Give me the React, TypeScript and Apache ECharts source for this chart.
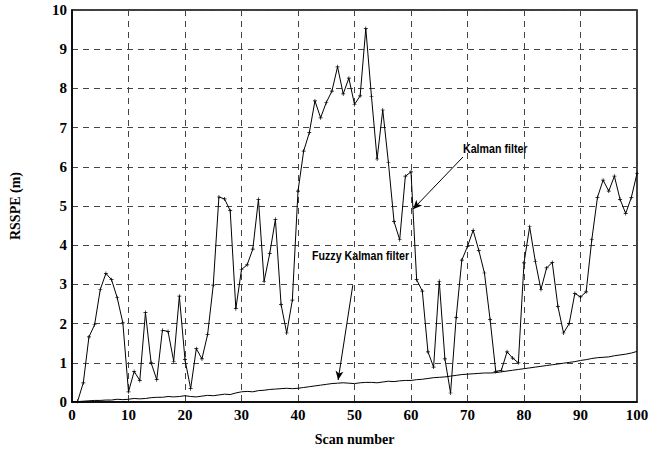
import React, { useEffect, useRef } from "react";
import * as echarts from "echarts";

const xTicks = [0, 10, 20, 30, 40, 50, 60, 70, 80, 90, 100];
const yTicks = [0, 1, 2, 3, 4, 5, 6, 7, 8, 9, 10];

const kalmanScan = [
  1, 2, 3, 4, 5, 6, 7, 8, 9, 10, 11, 12, 13, 14, 15, 16, 17, 18, 19, 20,
  21, 22, 23, 24, 25, 26, 27, 28, 29, 30, 31, 32, 33, 34, 35, 36, 37, 38, 39, 40,
  41, 42, 43, 44, 45, 46, 47, 48, 49, 50, 51, 52, 53, 54, 55, 56, 57, 58, 59, 60,
  61, 62, 63, 64, 65, 66, 67, 68, 69, 70, 71, 72, 73, 74, 75, 76, 77, 78, 79, 80,
  81, 82, 83, 84, 85, 86, 87, 88, 89, 90, 91, 92, 93, 94, 95, 96, 97, 98, 99, 100,
];
const kalmanValues = [
  0.02, 0.49, 1.66, 1.97, 2.87, 3.28, 3.12, 2.66, 2.02, 0.26,
  0.78, 0.55, 2.28, 1.0, 0.57, 1.83, 1.8, 1.04, 2.7, 1.08,
  0.34, 1.36, 1.1, 1.72, 2.98, 5.23, 5.18, 4.88, 2.38, 3.38,
  3.5, 3.9, 5.17, 3.08, 3.79, 4.66, 2.49, 1.76, 2.6, 5.38,
  6.4, 6.87, 7.68, 7.25, 7.64, 7.93, 8.55, 7.86, 8.26, 7.59,
  7.81, 9.53, 7.8, 6.2, 7.45, 6.11, 4.6, 4.14, 5.76, 5.87,
  3.12, 2.83, 1.28, 0.89, 3.08, 1.1, 0.23, 2.16, 3.62, 3.97,
  4.38, 3.87, 3.29, 2.1, 0.78, 0.81, 1.28, 1.12, 1.0, 3.55,
  4.47, 3.59, 2.87, 3.42, 3.56, 2.44, 1.76, 2.0, 2.77, 2.68,
  2.81, 4.14, 5.22, 5.66, 5.38, 5.76, 5.17, 4.81, 5.22, 5.83,
];

const fuzzyScan = [
  0, 1, 2, 3, 4, 5, 6, 7, 8, 9, 10, 11, 12, 13, 14, 15, 16, 17, 18, 19, 20,
  21, 22, 23, 24, 25, 26, 27, 28, 29, 30, 31, 32, 33, 34, 35, 36, 37, 38, 39, 40,
  41, 42, 43, 44, 45, 46, 47, 48, 49, 50, 51, 52, 53, 54, 55, 56, 57, 58, 59, 60,
  61, 62, 63, 64, 65, 66, 67, 68, 69, 70, 71, 72, 73, 74, 75, 76, 77, 78, 79, 80,
  81, 82, 83, 84, 85, 86, 87, 88, 89, 90, 91, 92, 93, 94, 95, 96, 97, 98, 99, 100,
];
const fuzzyValues = [
  0.0, 0.01, 0.02, 0.03, 0.04, 0.04, 0.05, 0.05, 0.07, 0.06,
  0.07, 0.09, 0.08, 0.09, 0.11, 0.12, 0.12, 0.14, 0.13, 0.14,
  0.16, 0.14, 0.13, 0.15, 0.17, 0.16, 0.18, 0.2, 0.19, 0.23,
  0.26, 0.27, 0.26, 0.29, 0.3, 0.32, 0.33, 0.34, 0.35, 0.34,
  0.35, 0.37, 0.39, 0.41, 0.43, 0.45, 0.47, 0.48, 0.49, 0.48,
  0.47, 0.49, 0.5, 0.5, 0.49, 0.51, 0.53, 0.52, 0.54, 0.55,
  0.55, 0.57, 0.58, 0.6, 0.62, 0.63, 0.64, 0.66, 0.68, 0.7,
  0.71, 0.72, 0.73, 0.74, 0.74, 0.75, 0.77, 0.79, 0.81, 0.83,
  0.85, 0.87, 0.89, 0.91, 0.93, 0.95, 0.97, 0.99, 1.01, 1.03,
  1.06, 1.08, 1.11, 1.13, 1.14, 1.15, 1.18, 1.2, 1.22, 1.25,
  1.29,
];

// annotation arrows in data coordinates: [fromX, fromY, toX, toY]
const kalmanArrow = [69.2, 6.25, 60.35, 4.92];
const fuzzyArrow = [49.7, 2.98, 47.1, 0.56];

const serif = "'Liberation Serif', 'Times New Roman', serif";
const sans = "'Liberation Sans', Arial, sans-serif";

export default function App() {
  const ref = useRef<HTMLDivElement>(null);
  useEffect(() => {
    if (!ref.current) return;
    const chart = echarts.init(ref.current, null, { renderer: "svg" });
    const arrowLine = (a: number[]) => [
      { coord: [a[0], a[1]], symbol: "none" },
      { coord: [a[2], a[3]], symbol: "arrow", symbolSize: [6, 9] },
    ];
    const tickLabel = {
      margin: 5,
      fontFamily: serif,
      fontWeight: "bold",
      fontSize: 15,
      color: "#000",
    };
    chart.setOption({
      animation: false,
      backgroundColor: "#fff",
      grid: {
        left: 72,
        right: 21,
        top: 10,
        bottom: 49,
        show: true,
        borderColor: "#000",
        borderWidth: 1.5,
        backgroundColor: "transparent",
      },
      xAxis: {
        type: "value",
        min: 0,
        max: 100,
        interval: 10,
        name: "Scan number",
        nameLocation: "middle",
        nameGap: 30,
        nameTextStyle: { fontFamily: serif, fontWeight: "bold", fontSize: 14, color: "#000" },
        axisLine: { show: true, lineStyle: { color: "#000", width: 1.5 } },
        axisTick: { show: false },
        axisLabel: {
          ...tickLabel,
          formatter: (v: number) => (xTicks.includes(v) ? String(v) : ""),
        },
        splitLine: { show: true, lineStyle: { color: "#444", type: [6, 5], width: 1 } },
      },
      yAxis: {
        type: "value",
        min: 0,
        max: 10,
        interval: 1,
        name: "RSSPE (m)",
        nameLocation: "middle",
        nameGap: 50,
        nameTextStyle: { fontFamily: serif, fontWeight: "bold", fontSize: 14, color: "#000" },
        axisLine: { show: true, lineStyle: { color: "#000", width: 1.5 } },
        axisTick: { show: false },
        axisLabel: {
          ...tickLabel,
          formatter: (v: number) => (yTicks.includes(v) ? String(v) : ""),
        },
        splitLine: { show: true, lineStyle: { color: "#444", type: [6, 5], width: 1 } },
      },
      graphic: [
        {
          type: "text",
          x: 463,
          y: 142,
          scaleX: 0.82,
          style: { text: "Kalman filter", fontFamily: sans, fontWeight: "bold", fontSize: 13, fill: "#000" },
        },
        {
          type: "text",
          x: 312,
          y: 249,
          scaleX: 0.82,
          style: { text: "Fuzzy Kalman filter", fontFamily: sans, fontWeight: "bold", fontSize: 13, fill: "#000" },
        },
      ],
      series: [
        {
          type: "line",
          name: "Kalman filter",
          data: kalmanScan.map((x, i) => [x, kalmanValues[i]]),
          symbol: "path://M-0.5,-3H0.5V-0.5H3V0.5H0.5V3H-0.5V0.5H-3V-0.5H-0.5Z",
          symbolSize: 4,
          showSymbol: true,
          itemStyle: { color: "#000" },
          lineStyle: { color: "#000", width: 1 },
          markLine: {
            silent: true,
            animation: false,
            label: { show: false },
            lineStyle: { color: "#000", width: 1, type: "solid" },
            data: [arrowLine(kalmanArrow), arrowLine(fuzzyArrow)],
          },
        },
        {
          type: "line",
          name: "Fuzzy Kalman filter",
          data: fuzzyScan.map((x, i) => [x, fuzzyValues[i]]),
          showSymbol: false,
          symbol: "none",
          lineStyle: { color: "#000", width: 1 },
        },
      ],
    });
    return () => chart.dispose();
  }, []);
  return (
    <div
      ref={ref}
      style={{ position: "fixed", left: 0, top: 0, width: 658, height: 451 }}
    />
  );
}
